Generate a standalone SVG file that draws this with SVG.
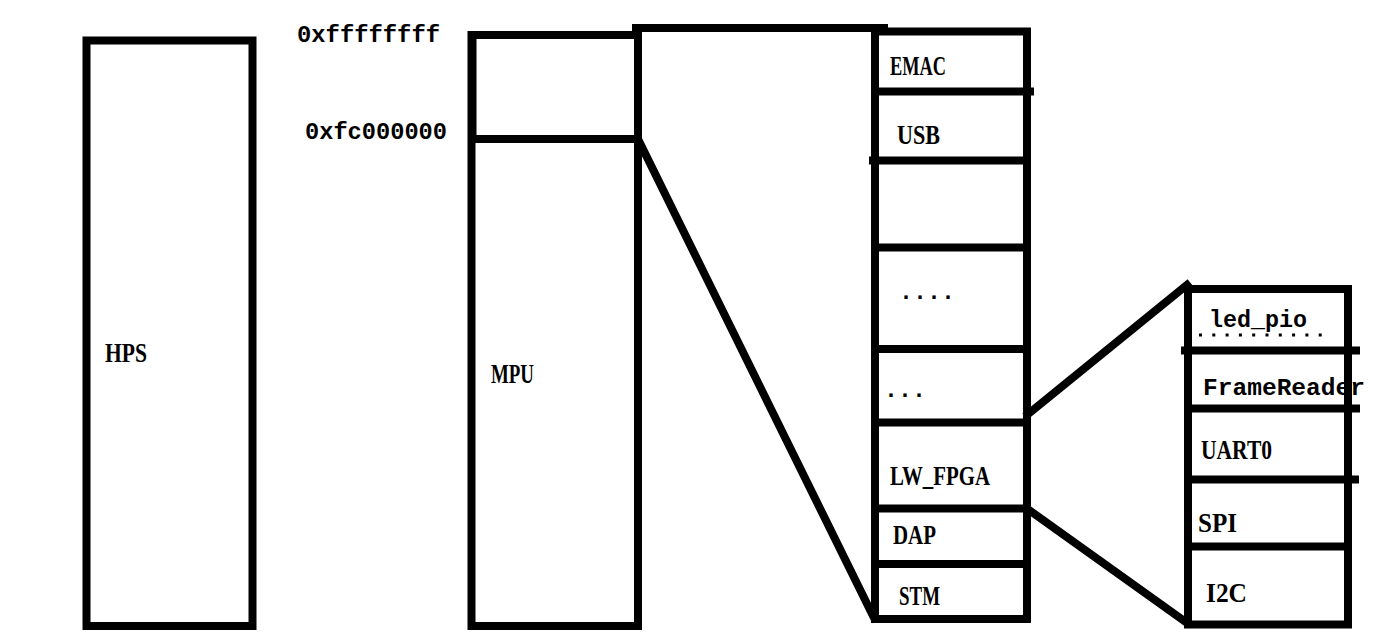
<svg xmlns="http://www.w3.org/2000/svg" width="1387" height="644" viewBox="0 0 1387 644">
<style>
.box{fill:none;stroke:#000;stroke-width:8}
.ln{stroke:#000;stroke-width:8;stroke-linecap:square;fill:none}
.t{font-family:"Liberation Serif","DejaVu Serif",serif;font-weight:bold;font-size:27px;fill:#000}
.m{font-family:"Liberation Mono","DejaVu Sans Mono",monospace;font-weight:bold;font-size:24px;fill:#000}
</style>
<rect width="1387" height="644" fill="#fff"/>
<g id="hps">
<rect class="box" x="86.5" y="40.5" width="166" height="585.5"/>
<text class="t" x="105" y="362" textLength="42" lengthAdjust="spacingAndGlyphs">HPS</text>
</g>
<g id="mpu">
<rect class="box" x="471.5" y="35" width="166.5" height="591"/>
<rect class="box" x="472.5" y="35" width="165.5" height="104" stroke-width="10"/>
<text class="t" x="491" y="383" textLength="43" lengthAdjust="spacingAndGlyphs">MPU</text>
</g>
<g id="addr">
<text class="m" x="297" y="42" textLength="143" lengthAdjust="spacingAndGlyphs">0xffffffff</text>
<text class="m" x="305" y="139" textLength="142" lengthAdjust="spacingAndGlyphs">0xfc000000</text>
</g>
<g id="stack">
<rect class="box" x="875" y="31.5" width="152" height="587.5"/>
<line class="ln" x1="879" y1="91.5" x2="1030" y2="91.5"/>
<line class="ln" x1="873" y1="160.5" x2="1023" y2="160.5"/>
<line class="ln" x1="879" y1="247.5" x2="1023" y2="247.5"/>
<line class="ln" x1="879" y1="349" x2="1023" y2="349"/>
<line class="ln" x1="879" y1="422.5" x2="1023" y2="422.5"/>
<line class="ln" x1="879" y1="508.5" x2="1023" y2="508.5"/>
<line class="ln" x1="879" y1="564" x2="1023" y2="564"/>
<text class="t" x="890" y="75" textLength="56" lengthAdjust="spacingAndGlyphs">EMAC</text>
<text class="t" x="897" y="144" textLength="43" lengthAdjust="spacingAndGlyphs">USB</text>
<text class="m" x="899" y="299" textLength="56" lengthAdjust="spacingAndGlyphs">....</text>
<text class="m" x="884" y="397" textLength="42" lengthAdjust="spacingAndGlyphs">...</text>
<text class="t" x="890" y="485" textLength="100" lengthAdjust="spacingAndGlyphs">LW_FPGA</text>
<text class="t" x="893" y="544" textLength="43" lengthAdjust="spacingAndGlyphs">DAP</text>
<text class="t" x="899" y="605" textLength="41" lengthAdjust="spacingAndGlyphs">STM</text>
</g>
<g id="lwfpga">
<rect class="box" x="1188" y="289" width="160" height="335.5"/>
<line class="ln" x1="1185" y1="350.5" x2="1356" y2="350.5"/>
<line class="ln" x1="1192" y1="408.5" x2="1356" y2="408.5"/>
<line class="ln" x1="1192" y1="479.5" x2="1355" y2="479.5"/>
<line class="ln" x1="1192" y1="546.5" x2="1344" y2="546.5"/>
<text class="m" x="1209" y="327" textLength="98" lengthAdjust="spacingAndGlyphs">led_pio</text>
<line x1="1199" y1="335" x2="1322" y2="335" stroke="#000" stroke-width="3" stroke-dasharray="3 10.3"/>
<text class="m" x="1203" y="395" textLength="162" lengthAdjust="spacingAndGlyphs">FrameReader</text>
<text class="t" x="1201" y="459" textLength="71" lengthAdjust="spacingAndGlyphs">UART0</text>
<text class="t" x="1198" y="532" textLength="39" lengthAdjust="spacingAndGlyphs">SPI</text>
<text class="t" x="1206" y="602" textLength="41" lengthAdjust="spacingAndGlyphs">I2C</text>
</g>
<g id="connectors">
<line class="ln" x1="636" y1="28" x2="884" y2="28" stroke-linecap="round"/>
<line class="ln" x1="638" y1="139" x2="874" y2="618" stroke-linecap="butt"/>
<line class="ln" x1="1028" y1="414" x2="1187" y2="285" stroke-linecap="round"/>
<line class="ln" x1="1029" y1="510" x2="1187" y2="623" stroke-linecap="round"/>
</g>
</svg>
